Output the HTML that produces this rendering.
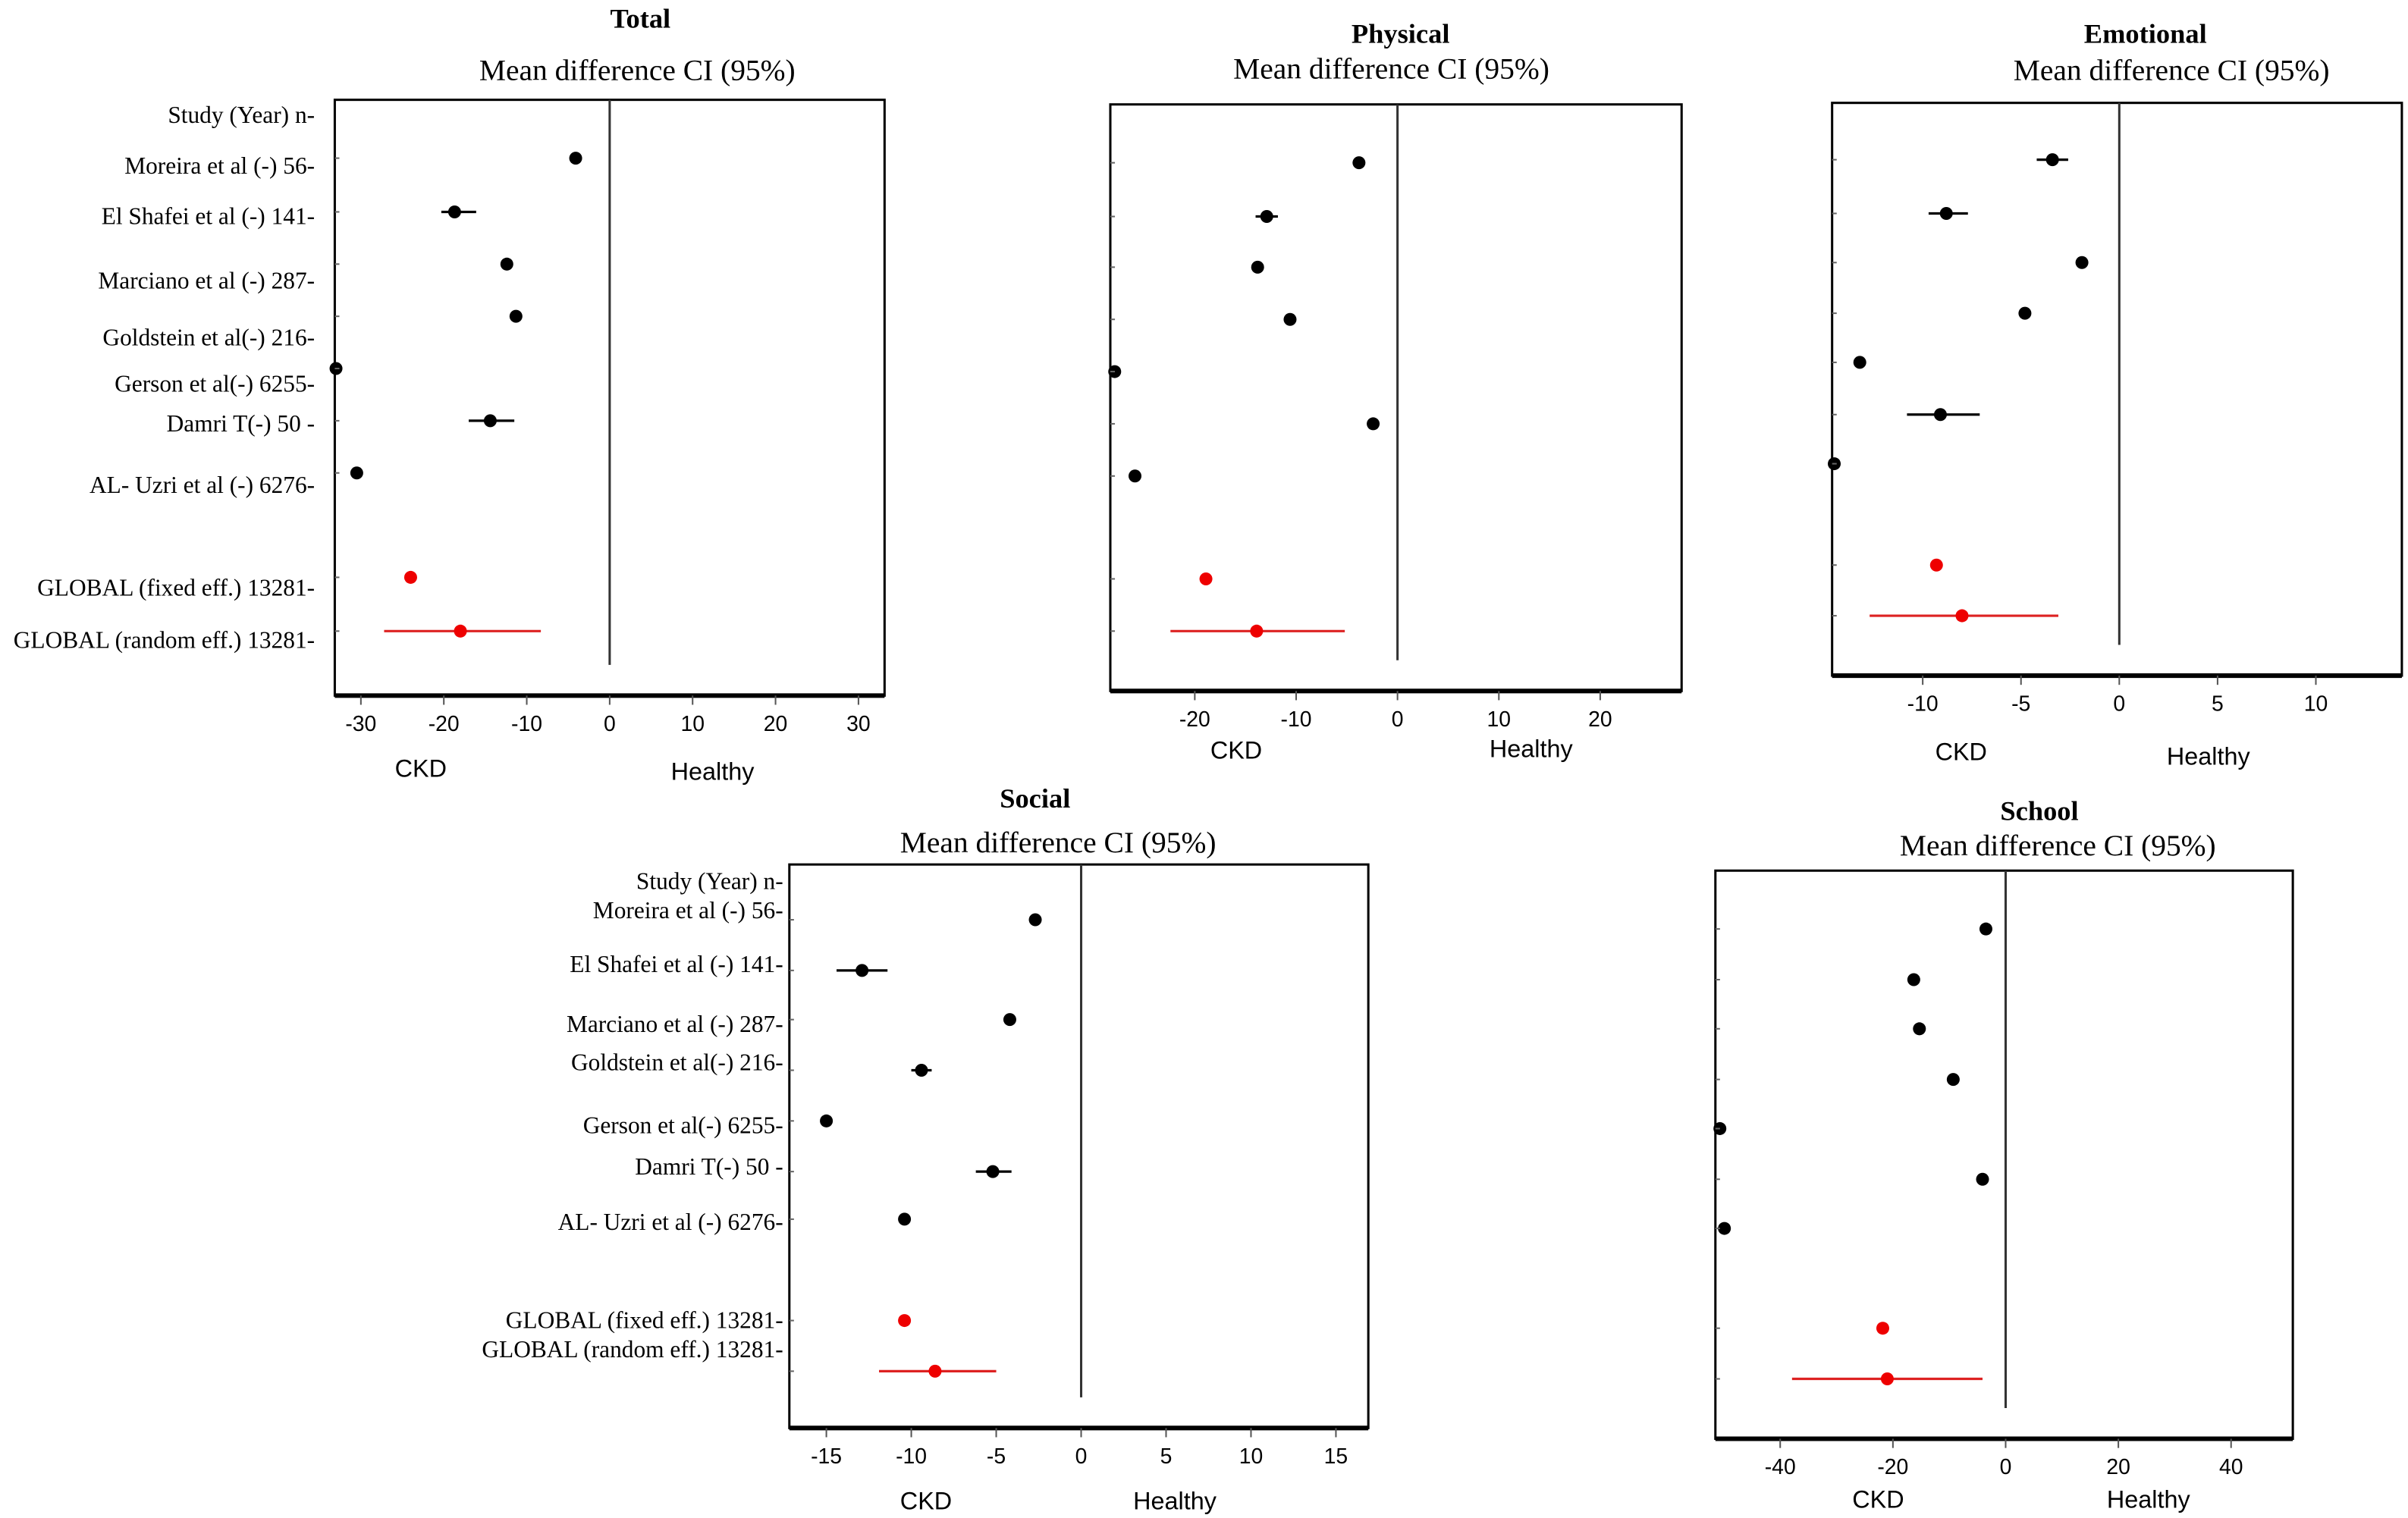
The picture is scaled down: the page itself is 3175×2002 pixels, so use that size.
<!DOCTYPE html>
<html><head><meta charset="utf-8">
<style>
html,body{margin:0;padding:0;background:#fff;}
svg{display:block;}
.lab{font-family:"Liberation Serif",serif;font-size:15.5px;fill:#000;}
.tick{font-family:"Liberation Sans",sans-serif;font-size:14px;fill:#000;}
.ttl{font-family:"Liberation Serif",serif;font-size:18px;font-weight:bold;fill:#000;}
.sub{font-family:"Liberation Serif",serif;font-size:19.5px;fill:#000;}
.side{font-family:"Liberation Sans",sans-serif;font-size:16px;fill:#000;}
</style></head>
<body>
<svg id="chart" width="3175" height="2002" viewBox="0 0 1568 988.6" preserveAspectRatio="none" xmlns="http://www.w3.org/2000/svg"></svg>
<script>
// ---- data ----
const studies = ["Moreira et al (-) 56-","El Shafei et al  (-) 141-","Marciano et al (-) 287-","Goldstein et al(-) 216-","Gerson et al(-) 6255-","Damri T(-) 50 -","AL- Uzri et al (-) 6276-","GLOBAL  (fixed eff.) 13281-","GLOBAL  (random eff.) 13281-"];
const totalMean = [-4.1,-18.7,-12.4,-11.3,-33,-14.4,-30.5,-24,-18];
const totalLo   = [-4.1,-20.3,-12.4,-11.3,-33,-17,-30.5,-24,-27.2];
const totalHi   = [-4.1,-16.1,-12.4,-11.3,-33,-11.5,-30.5,-24,-8.3];
const physMean = [-3.8,-12.9,-13.8,-10.6,-27.9,-2.4,-25.9,-18.9,-13.9];
const physLo   = [-3.8,-14,-13.8,-10.6,-27.9,-2.4,-25.9,-18.9,-22.4];
const physHi   = [-3.8,-11.8,-13.8,-10.6,-27.9,-2.4,-25.9,-18.9,-5.2];
const emoMean = [-3.4,-8.8,-1.9,-4.8,-13.2,-9.1,-14.5,-9.3,-8];
const emoLo   = [-4.2,-9.7,-1.9,-4.8,-13.2,-10.8,-14.5,-9.3,-12.7];
const emoHi   = [-2.6,-7.7,-1.9,-4.8,-13.2,-7.1,-14.5,-9.3,-3.1];
const socMean = [-2.7,-12.9,-4.2,-9.4,-15,-5.2,-10.4,-10.4,-8.6];
const socLo   = [-2.7,-14.4,-4.2,-10,-15,-6.2,-10.4,-10.4,-11.9];
const socHi   = [-2.7,-11.4,-4.2,-8.8,-15,-4.1,-10.4,-10.4,-5];
const schMean = [-3.5,-16.3,-15.3,-9.3,-50.7,-4.1,-49.9,-21.8,-21];
const schLo   = [-3.5,-17,-15.3,-9.3,-50.7,-4.1,-49.9,-21.8,-37.9];
const schHi   = [-3.5,-15.6,-15.3,-9.3,-50.7,-4.1,-49.9,-21.8,-4.1];
const totalTicks = [-30,-20,-10,0,10,20,30];
const physTicks = [-20,-10,0,10,20];
const emoTicks = [-10,-5,0,5,10];
const socTicks = [-15,-10,-5,0,5,10,15];
const schTicks = [-40,-20,0,20,40];

const NS="http://www.w3.org/2000/svg";
const svg=document.getElementById('chart');
function mk(tag,attrs,parent){const e=document.createElementNS(NS,tag);for(const k in attrs)e.setAttribute(k,attrs[k]);(parent||svg).appendChild(e);return e;}
function txt(s,x,y,cls,anchor,parent){const t=mk('text',{x:x,y:y,class:cls,'text-anchor':anchor||'middle'},parent);t.textContent=s;return t;}

function panel(p){
  const g=mk('g',{});
  
  
  const xs=v=>p.zero+v*p.ppu;
  const box=mk('rect',{x:p.x0,y:p.y0,width:p.x1-p.x0,height:p.y1-p.y0,fill:'none',stroke:'#000','stroke-width':1.5},g);
  
  
  const ax=mk('line',{x1:p.x0,x2:p.x1,y1:p.y1,y2:p.y1,stroke:'#000','stroke-width':3},g);
  
  
  const zl=mk('line',{x1:xs(0),x2:xs(0),y1:p.y0,y2:p.y1-20,stroke:'#333','stroke-width':1.5},g);
  
  
  p.ticks.forEach(t=>{
    const tl=mk('line',{x1:xs(t),x2:xs(t),y1:p.y1,y2:p.y1+6,stroke:'#555','stroke-width':1},g);
    
    
    const lb=txt(String(t),xs(t),p.y1+23,'tick','middle',g);
    
    
  });
  p.mean.forEach((m,i)=>{
    const y=p.rows[i];
    const col=i>=7?'#e00':'#000';
    const l=mk('line',{x1:xs(p.lo[i]),x2:xs(p.hi[i]),y1:y,y2:y,stroke:i>=7?'#d22':'#000','stroke-width':1.6},g);
    
    
    const c=mk('circle',{cx:xs(m),cy:y,r:4.2,fill:col},g);
    
    
    const lt=mk('line',{x1:p.x0,x2:p.x0+3,y1:y,y2:y,stroke:'#666','stroke-width':1},g);
    
    
  });
  const t=txt(p.title,p.tx,p.ty,'ttl','middle',g);
  
  
  const s=txt('Mean difference CI (95%)',p.sx,p.sy,'sub','middle',g);
  
  
  const ck=txt('CKD',p.ckd[0],p.ckd[1],'side','middle',g);
  
  
  const hl=txt('Healthy',p.hea[0],p.hea[1],'side','middle',g);
  
  
  if(p.labels){
    const hd=txt('Study  (Year)    n-',p.lx,p.labels[0],'lab','end',g);
    
    
    studies.forEach((s,i)=>{
      const e=txt(s,p.lx,p.labels[i+1],'lab','end',g);
      
      
    });
  }
}

panel({name:'total',title:'Total',x0:218,x1:576,y0:65,y1:453,zero:397,ppu:5.4,ticks:totalTicks,mean:totalMean,lo:totalLo,hi:totalHi,
  rows:[103,138,172,206,240,274,308,376,411],tx:417,ty:18,sx:415,sy:52,ckd:[274,506],hea:[464,508],
  lx:205,labels:[80,113,146,188,225,255,281,321,388,422]});
panel({name:'physical',title:'Physical',x0:723,x1:1095,y0:68,y1:450,zero:910,ppu:6.6,ticks:physTicks,mean:physMean,lo:physLo,hi:physHi,
  rows:[106,141,174,208,242,276,310,377,411],tx:912,ty:28,sx:906,sy:51,ckd:[805,494],hea:[997,493]});
panel({name:'emotional',title:'Emotional',x0:1193,x1:1564,y0:67,y1:440,zero:1380,ppu:12.8,ticks:emoTicks,mean:emoMean,lo:emoLo,hi:emoHi,
  rows:[104,139,171,204,236,270,302,368,401],tx:1397,ty:28,sx:1414,sy:52,ckd:[1277,495],hea:[1438,498]});
panel({name:'social',title:'Social',x0:514,x1:891,y0:563,y1:930,zero:704,ppu:11.06,ticks:socTicks,mean:socMean,lo:socLo,hi:socHi,
  rows:[599,632,664,697,730,763,794,860,893],tx:674,ty:526,sx:689,sy:555,ckd:[603,983],hea:[765,983],
  lx:510,labels:[579,598,633,672,697,738,765,801,865,884]});
panel({name:'school',title:'School',x0:1117,x1:1493,y0:567,y1:937,zero:1306,ppu:3.67,ticks:schTicks,mean:schMean,lo:schLo,hi:schHi,
  rows:[605,638,670,703,735,768,800,865,898],tx:1328,ty:534,sx:1340,sy:557,ckd:[1223,982],hea:[1399,982]});
</script>
</body></html>
